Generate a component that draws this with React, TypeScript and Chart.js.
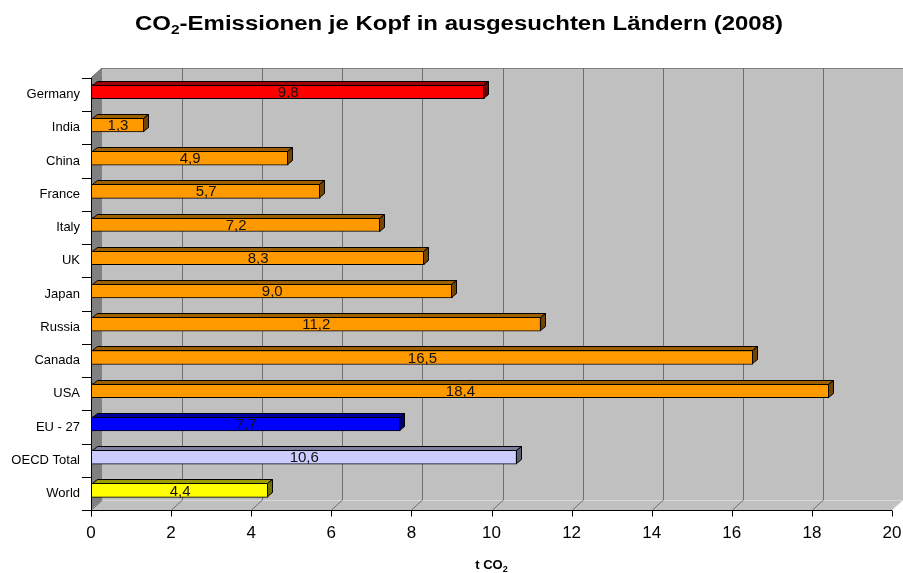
import React, { useEffect, useRef } from "react";
import { Chart, registerables } from "chart.js";

Chart.register(...registerables);

const categories = [
  "Germany", "India", "China", "France", "Italy", "UK", "Japan",
  "Russia", "Canada", "USA", "EU - 27", "OECD Total", "World",
];
const values = [9.8, 1.3, 4.9, 5.7, 7.2, 8.3, 9.0, 11.2, 16.5, 18.4, 7.7, 10.6, 4.4];
const valueLabels = ["9,8", "1,3", "4,9", "5,7", "7,2", "8,3", "9,0", "11,2", "16,5", "18,4", "7,7", "10,6", "4,4"];
const barColors = [
  "#ff0000", "#ff9900", "#ff9900", "#ff9900", "#ff9900", "#ff9900", "#ff9900",
  "#ff9900", "#ff9900", "#ff9900", "#0000ff", "#ccccff", "#ffff00",
];
const titleMain = "CO";
const titleSub = "2";
const titleRest = "-Emissionen je Kopf in ausgesuchten Ländern (2008)";
const axisMain = "t CO";
const axisSub = "2";

const FONT = "'Liberation Sans', Arial, sans-serif";
const DX = 11, DY = 10; // wall depth
const BDX = 5, BDY = 4; // bar depth
const SHIFT_X = 1, SHIFT_Y = -3;

function shade(hex: string, f: number) {
  const n = parseInt(hex.slice(1), 16);
  const r = Math.round(((n >> 16) & 255) * f);
  const g = Math.round(((n >> 8) & 255) * f);
  const b = Math.round((n & 255) * f);
  return `rgb(${r},${g},${b})`;
}

function line(ctx: CanvasRenderingContext2D, x1: number, y1: number, x2: number, y2: number) {
  ctx.beginPath();
  ctx.moveTo(x1, y1);
  ctx.lineTo(x2, y2);
  ctx.stroke();
}

function drawSubText(
  ctx: CanvasRenderingContext2D,
  parts: [string, string, string],
  cx: number,
  baseline: number,
  size: number,
  subSize: number,
  targetWidth?: number,
) {
  ctx.save();
  ctx.textBaseline = "alphabetic";
  ctx.textAlign = "left";
  ctx.fillStyle = "#000";
  ctx.font = `bold ${size}px ${FONT}`;
  const w1 = ctx.measureText(parts[0]).width;
  const w3 = ctx.measureText(parts[2]).width;
  ctx.font = `bold ${subSize}px ${FONT}`;
  const w2 = ctx.measureText(parts[1]).width;
  const total = w1 + w2 + w3;
  const sx = targetWidth ? targetWidth / total : 1;
  ctx.translate(cx - (total * sx) / 2, baseline);
  ctx.scale(sx, 1);
  let x = 0;
  ctx.font = `bold ${size}px ${FONT}`;
  ctx.fillText(parts[0], x, 0);
  x += w1;
  ctx.font = `bold ${subSize}px ${FONT}`;
  ctx.fillText(parts[1], x, size * 0.22);
  x += w2;
  ctx.font = `bold ${size}px ${FONT}`;
  ctx.fillText(parts[2], x, 0);
  ctx.restore();
}

const scene3d = {
  id: "scene3d",
  beforeDatasetsDraw(chart: any) {
    const { ctx, chartArea: a, scales } = chart;
    const xs = scales.x;
    ctx.save();
    // back wall
    ctx.fillStyle = "#c0c0c0";
    ctx.fillRect(a.left + DX, a.top - DY, a.right - a.left, a.bottom - a.top);
    // floor
    ctx.beginPath();
    ctx.moveTo(a.left, a.bottom);
    ctx.lineTo(a.left + DX, a.bottom - DY);
    ctx.lineTo(a.right + DX, a.bottom - DY);
    ctx.lineTo(a.right, a.bottom);
    ctx.closePath();
    ctx.fill();
    ctx.lineWidth = 1;
    ctx.strokeStyle = "#808080";
    line(ctx, a.left + DX, a.top - DY + 0.5, a.right + DX, a.top - DY + 0.5);
    ctx.strokeStyle = "#d8d8d8";
    line(ctx, a.left + DX, a.bottom - DY + 0.5, a.right + DX, a.bottom - DY + 0.5);
    line(ctx, a.right, a.bottom, a.right + DX, a.bottom - DY);
    // gridlines on wall & floor
    ctx.strokeStyle = "#6e6e6e";
    xs.ticks.forEach((t: any) => {
      const px = Math.round(xs.getPixelForValue(t.value)) + 0.5;
      if (t.value > 0 && t.value < 20) line(ctx, px + DX, a.top - DY, px + DX, a.bottom - DY);
      if (t.value < 20) line(ctx, px, a.bottom, px + DX, a.bottom - DY);
    });
    // left wall
    ctx.fillStyle = "#808080";
    ctx.beginPath();
    ctx.moveTo(a.left, a.top);
    ctx.lineTo(a.left + DX, a.top - DY);
    ctx.lineTo(a.left + DX, a.bottom - DY);
    ctx.lineTo(a.left, a.bottom);
    ctx.closePath();
    ctx.fill();
    ctx.strokeStyle = "#606060";
    line(ctx, a.left, a.top, a.left + DX, a.top - DY);
    // axis lines
    ctx.strokeStyle = "#000";
    const L = Math.round(a.left) + 0.5;
    const B = Math.round(a.bottom) + 0.5;
    line(ctx, L, a.top, L, B + 6);
    line(ctx, a.left - 9, B, a.right, B);
    const n = categories.length;
    for (let i = 0; i < n; i++) {
      const y = Math.round(a.top + (i * (a.bottom - a.top)) / n) + 0.5;
      line(ctx, a.left - 9, y, a.left, y);
    }
    xs.ticks.forEach((t: any) => {
      const px = Math.round(xs.getPixelForValue(t.value)) + 0.5;
      line(ctx, px, B, px, B + 6);
    });
    ctx.restore();
    ctx.save();
    ctx.translate(SHIFT_X, SHIFT_Y);
  },
  afterDatasetsDraw(chart: any) {
    const { ctx } = chart;
    const meta = chart.getDatasetMeta(0);
    ctx.lineWidth = 1;
    ctx.strokeStyle = "#000";
    meta.data.forEach((bar: any, i: number) => {
      const { x, y, base, height } = bar.getProps(["x", "y", "base", "height"], true);
      const top = Math.round(y - height / 2) + 0.5;
      const bot = Math.round(y + height / 2) - 0.5;
      const x0 = base + 0.5;
      const x1 = Math.round(x) - 0.5;
      const c = barColors[i];
      // top face
      ctx.beginPath();
      ctx.moveTo(x0, top);
      ctx.lineTo(x0 + BDX, top - BDY);
      ctx.lineTo(x1 + BDX, top - BDY);
      ctx.lineTo(x1, top);
      ctx.closePath();
      ctx.fillStyle = shade(c, 0.62);
      ctx.fill();
      ctx.stroke();
      // side face
      ctx.beginPath();
      ctx.moveTo(x1, top);
      ctx.lineTo(x1 + BDX, top - BDY);
      ctx.lineTo(x1 + BDX, bot - BDY);
      ctx.lineTo(x1, bot);
      ctx.closePath();
      ctx.fillStyle = shade(c, 0.45);
      ctx.fill();
      ctx.stroke();
    });
    ctx.fillStyle = "#111";
    ctx.font = `15px ${FONT}`;
    ctx.textAlign = "center";
    ctx.textBaseline = "middle";
    meta.data.forEach((bar: any, i: number) => {
      const { x, y, base } = bar.getProps(["x", "y", "base"], true);
      ctx.fillText(valueLabels[i], (x + base) / 2, y + 1);
    });
    ctx.restore();
  },
  afterDraw(chart: any) {
    const { ctx, chartArea: a } = chart;
    drawSubText(ctx, [titleMain, titleSub, titleRest], 459, 30, 20, 13, 648);
    drawSubText(ctx, [axisMain, axisSub, ""], (a.left + a.right) / 2, 569, 13, 9);
  },
};

export default function App() {
  const ref = useRef<HTMLCanvasElement>(null);
  useEffect(() => {
    const chart = new Chart(ref.current as HTMLCanvasElement, {
      type: "bar",
      data: {
        labels: categories,
        datasets: [
          {
            data: values,
            backgroundColor: barColors,
            borderColor: "#000",
            borderWidth: 1,
            barThickness: 14,
            clip: false as any,
          },
        ],
      },
      options: {
        indexAxis: "y",
        responsive: false,
        animation: false,
        layout: { padding: { top: 78, right: 11, left: 0, bottom: 0 } },
        plugins: {
          legend: { display: false },
          tooltip: { enabled: false },
          title: { display: false },
        },
        scales: {
          x: {
            type: "linear",
            min: 0,
            max: 20,
            grid: { display: false, drawTicks: false },
            border: { display: false },
            ticks: {
              stepSize: 2,
              font: { family: FONT, size: 17 },
              color: "#000",
              padding: 13,
              maxRotation: 0,
              autoSkip: false,
            },
            afterFit: (s: any) => {
              s.height = 63;
              s.paddingRight = 0;
              s.paddingLeft = 0;
            },
          },
          y: {
            type: "category",
            grid: { display: false, drawTicks: false },
            border: { display: false },
            ticks: { font: { family: FONT, size: 13 }, color: "#000", padding: 11, autoSkip: false },
            afterFit: (s: any) => {
              s.width = 91;
            },
          },
        },
      },
      plugins: [scene3d],
    } as any);
    return () => chart.destroy();
  }, []);
  return (
    <div style={{ position: "fixed", left: 0, top: 0, width: 903, height: 573, background: "#fff" }}>
      <canvas ref={ref} width={903} height={573} style={{ display: "block" }} />
    </div>
  );
}
